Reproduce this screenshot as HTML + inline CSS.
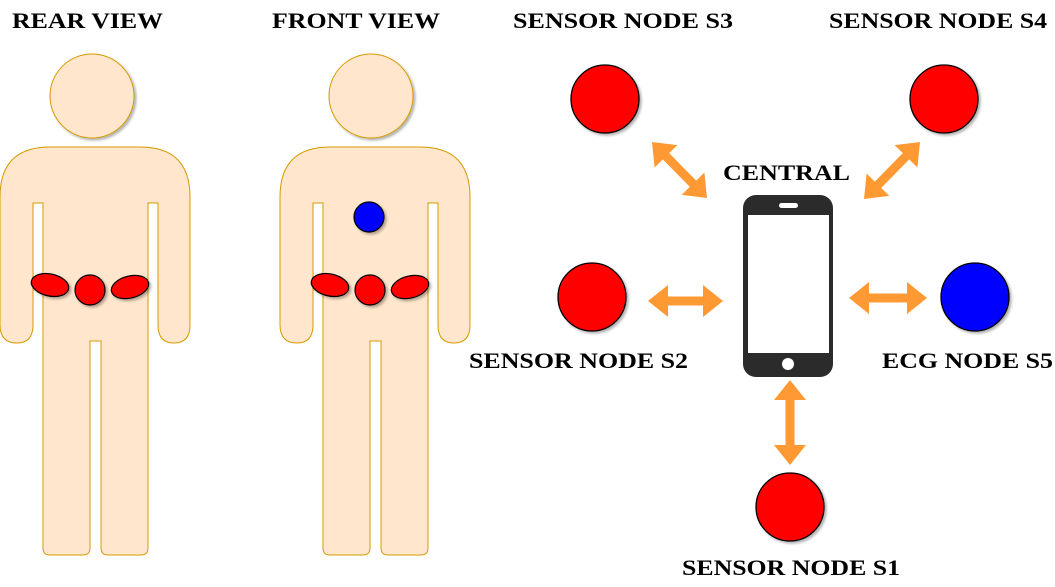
<!DOCTYPE html>
<html><head><meta charset="utf-8"><style>
html,body{margin:0;padding:0;background:#fff;}
svg{display:block;}
text{font-family:"Liberation Serif",serif;font-weight:bold;font-size:22px;fill:#000;}
</style></head><body>
<svg width="1055" height="587" viewBox="0 0 1055 587">
<defs>
<filter id="sh" x="-20%" y="-20%" width="150%" height="150%"><feDropShadow dx="2" dy="2" stdDeviation="1.2" flood-color="#000" flood-opacity="0.3"/></filter>
</defs>
<g>
<circle cx="92" cy="96" r="42" fill="#ffe6cc" stroke="#d79b00" stroke-width="1" filter="url(#sh)"/>
<path id="body" d="M0,197 Q0,147 50,147 L140,147 Q190,147 190,197 L190,325 Q190,343 174,343 Q158,343 158,325 L158,203 L148,203 L148,548 Q148,555 141,555 L108,555 Q101,555 101,548 L101,341 L90,341 L90,548 Q90,555 83,555 L50,555 Q43,555 43,548 L43,203 L33,203 L33,325 Q33,343 17,343 Q0,343 0,325 Z" fill="#ffe6cc" stroke="#d79b00" stroke-width="1"/>
<g filter="url(#sh)" stroke="#000" stroke-width="1.2" fill="#f00">
<ellipse cx="50" cy="285" rx="19" ry="11" transform="rotate(12 50 285)"/>
<circle cx="90" cy="290" r="15"/>
<ellipse cx="130" cy="287" rx="19" ry="11" transform="rotate(-14 130 287)"/>
</g>
</g>
<g transform="translate(280,0)">
<circle cx="91" cy="96" r="42" fill="#ffe6cc" stroke="#d79b00" stroke-width="1" filter="url(#sh)"/>
<use href="#body"/>
<g filter="url(#sh)" stroke="#000" stroke-width="1.2" fill="#f00">
<ellipse cx="50" cy="285" rx="19" ry="11" transform="rotate(12 50 285)"/>
<circle cx="90" cy="290" r="15"/>
<ellipse cx="130" cy="287" rx="19" ry="11" transform="rotate(-14 130 287)"/>
</g>
<circle cx="89" cy="217" r="15" fill="#00f" stroke="#000" stroke-width="1.2" filter="url(#sh)"/>
</g>
<text x="12" y="28" textLength="151" lengthAdjust="spacingAndGlyphs">REAR VIEW</text>
<text x="272" y="28" textLength="168" lengthAdjust="spacingAndGlyphs">FRONT VIEW</text>
<text x="513" y="28" textLength="220" lengthAdjust="spacingAndGlyphs">SENSOR NODE S3</text>
<text x="829" y="28" textLength="218" lengthAdjust="spacingAndGlyphs">SENSOR NODE S4</text>
<text x="723" y="180" textLength="127" lengthAdjust="spacingAndGlyphs">CENTRAL</text>
<text x="469" y="368" textLength="219" lengthAdjust="spacingAndGlyphs">SENSOR NODE S2</text>
<text x="882" y="368" textLength="171" lengthAdjust="spacingAndGlyphs">ECG NODE S5</text>
<text x="682" y="575" textLength="218" lengthAdjust="spacingAndGlyphs">SENSOR NODE S1</text>
<g stroke="#000" stroke-width="1.3" filter="url(#sh)">
<circle cx="605" cy="99" r="34" fill="#f00"/>
<circle cx="944" cy="99" r="34" fill="#f00"/>
<circle cx="592" cy="297" r="34" fill="#f00"/>
<circle cx="975" cy="297" r="34" fill="#00f"/>
<circle cx="790" cy="507" r="34" fill="#f00"/>
</g>
<g>
<rect x="743" y="195" width="90" height="182" rx="13" fill="#2b2b2b"/>
<rect x="748" y="215" width="81" height="138" fill="#fff"/>
<rect x="779" y="203" width="19" height="5" rx="2.5" fill="#fff"/>
<circle cx="788" cy="364" r="6" fill="#fff"/>
</g>
<g id="arrows" fill="#ff9933"></g>
</svg>
<script>
function arrow(x1,y1,x2,y2,name){
  var dx=x2-x1,dy=y2-y1,L=Math.hypot(dx,dy),ux=dx/L,uy=dy/L,nx=-uy,ny=ux;
  var h=20,w=4.5,hw=16;
  var pts=[[0,0],[h,hw],[h,w],[L-h,w],[L-h,hw],[L,0],[L-h,-hw],[L-h,-w],[h,-w],[h,-hw]];
  var s=pts.map(function(p){return (x1+ux*p[0]+nx*p[1]).toFixed(1)+','+(y1+uy*p[0]+ny*p[1]).toFixed(1);}).join(' ');
  var el=document.createElementNS('http://www.w3.org/2000/svg','polygon');
  el.setAttribute('points',s);
  
  
  document.getElementById('arrows').appendChild(el);
}
arrow(648,301,723,301,'arrow-s2');
arrow(849,298,927,298,'arrow-s5');
arrow(790,380,790,465,'arrow-s1');
arrow(652,142,707,198,'arrow-s3');
arrow(920,142,864,199,'arrow-s4');
</script>
</body></html>
